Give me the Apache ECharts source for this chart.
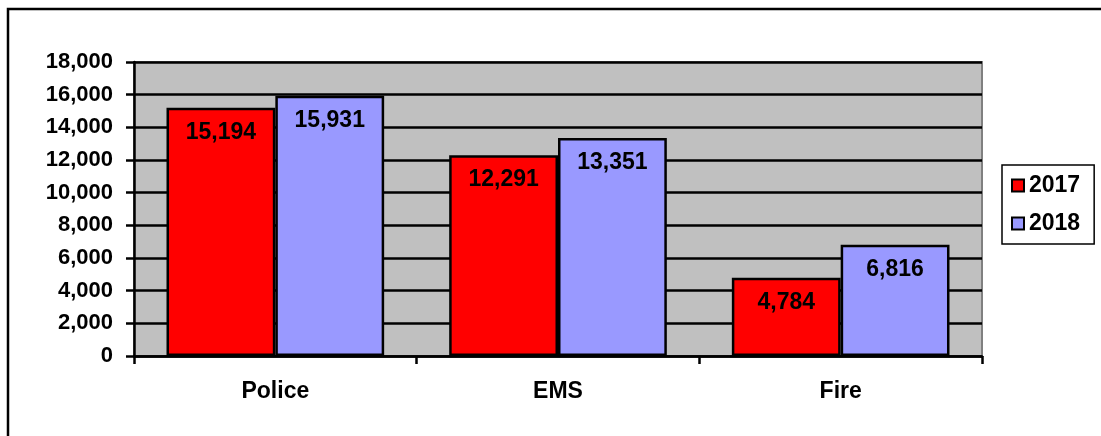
<!DOCTYPE html>
<html>
<head>
<meta charset="utf-8">
<script src="https://cdn.jsdelivr.net/npm/echarts@6/dist/echarts.min.js"></script>
<style>
  html, body { margin: 0; padding: 0; background: #fff; }
  #chart { width: 1101px; height: 436px; }
</style>
</head>
<body>
<div id="chart"></div>
<script>
// Call volume by department, two years
const categories = ['Police', 'EMS', 'Fire'];
const values2017 = [15194, 12291, 4784];
const values2018 = [15931, 13351, 6816];
const seriesNames = ['2017', '2018'];

const FONT = 'Arial, "Liberation Sans", sans-serif';
const fmt = v => v.toLocaleString('en-US');

const chart = echarts.init(document.getElementById('chart'), null, { renderer: 'canvas' });

const labelStyle = {
  show: true,
  position: 'insideTop',
  distance: 13,
  color: '#000',
  fontFamily: FONT,
  fontWeight: 'bold',
  fontSize: 23,
  formatter: p => fmt(p.value)
};

chart.setOption({
  animation: false,
  backgroundColor: '#fff',
  graphic: [{
    type: 'rect',
    shape: { x: 8, y: 9, width: 1200, height: 500 },
    style: { fill: 'none', stroke: '#000', lineWidth: 2.5 },
    silent: true,
    z: 100
  }],
  grid: {
    left: 134, right: 119, top: 62, bottom: 80,
    show: true,
    backgroundColor: '#C0C0C0',
    borderColor: '#808080',
    borderWidth: 2
  },
  legend: {
    orient: 'vertical',
    left: 1002, top: 165,
    padding: [9, 14, 9, 9],
    itemGap: 15,
    itemWidth: 12,
    itemHeight: 12,
    icon: 'rect',
    borderColor: '#000',
    borderWidth: 1.5,
    backgroundColor: '#fff',
    textStyle: { fontFamily: FONT, fontWeight: 'bold', fontSize: 23, color: '#000' },
    data: seriesNames
  },
  xAxis: {
    type: 'category',
    data: categories,
    axisLine: { lineStyle: { color: '#000', width: 2.5 } },
    axisTick: { show: true, alignWithLabel: false, length: 8, lineStyle: { color: '#000', width: 2.5 } },
    axisLabel: { color: '#000', fontFamily: FONT, fontWeight: 'bold', fontSize: 23, margin: 24 }
  },
  yAxis: {
    type: 'value',
    min: 0, max: 18000, interval: 2000,
    axisLine: { show: true, lineStyle: { color: '#000', width: 2.5 } },
    axisTick: { show: true, length: 8, lineStyle: { color: '#000', width: 2.5 } },
    splitLine: { show: true, lineStyle: { color: '#000', width: 2.5 } },
    axisLabel: { color: '#000', fontFamily: FONT, fontWeight: 'bold', fontSize: 22, margin: 21, formatter: fmt }
  },
  series: [
    {
      name: seriesNames[0],
      type: 'bar',
      data: values2017,
      barGap: '0%',
      barCategoryGap: '23%',
      itemStyle: { color: '#FF0000', borderColor: '#000', borderWidth: 2.5 },
      label: labelStyle
    },
    {
      name: seriesNames[1],
      type: 'bar',
      data: values2018,
      itemStyle: { color: '#9999FF', borderColor: '#000', borderWidth: 2.5 },
      label: labelStyle
    }
  ]
});
</script>
</body>
</html>
